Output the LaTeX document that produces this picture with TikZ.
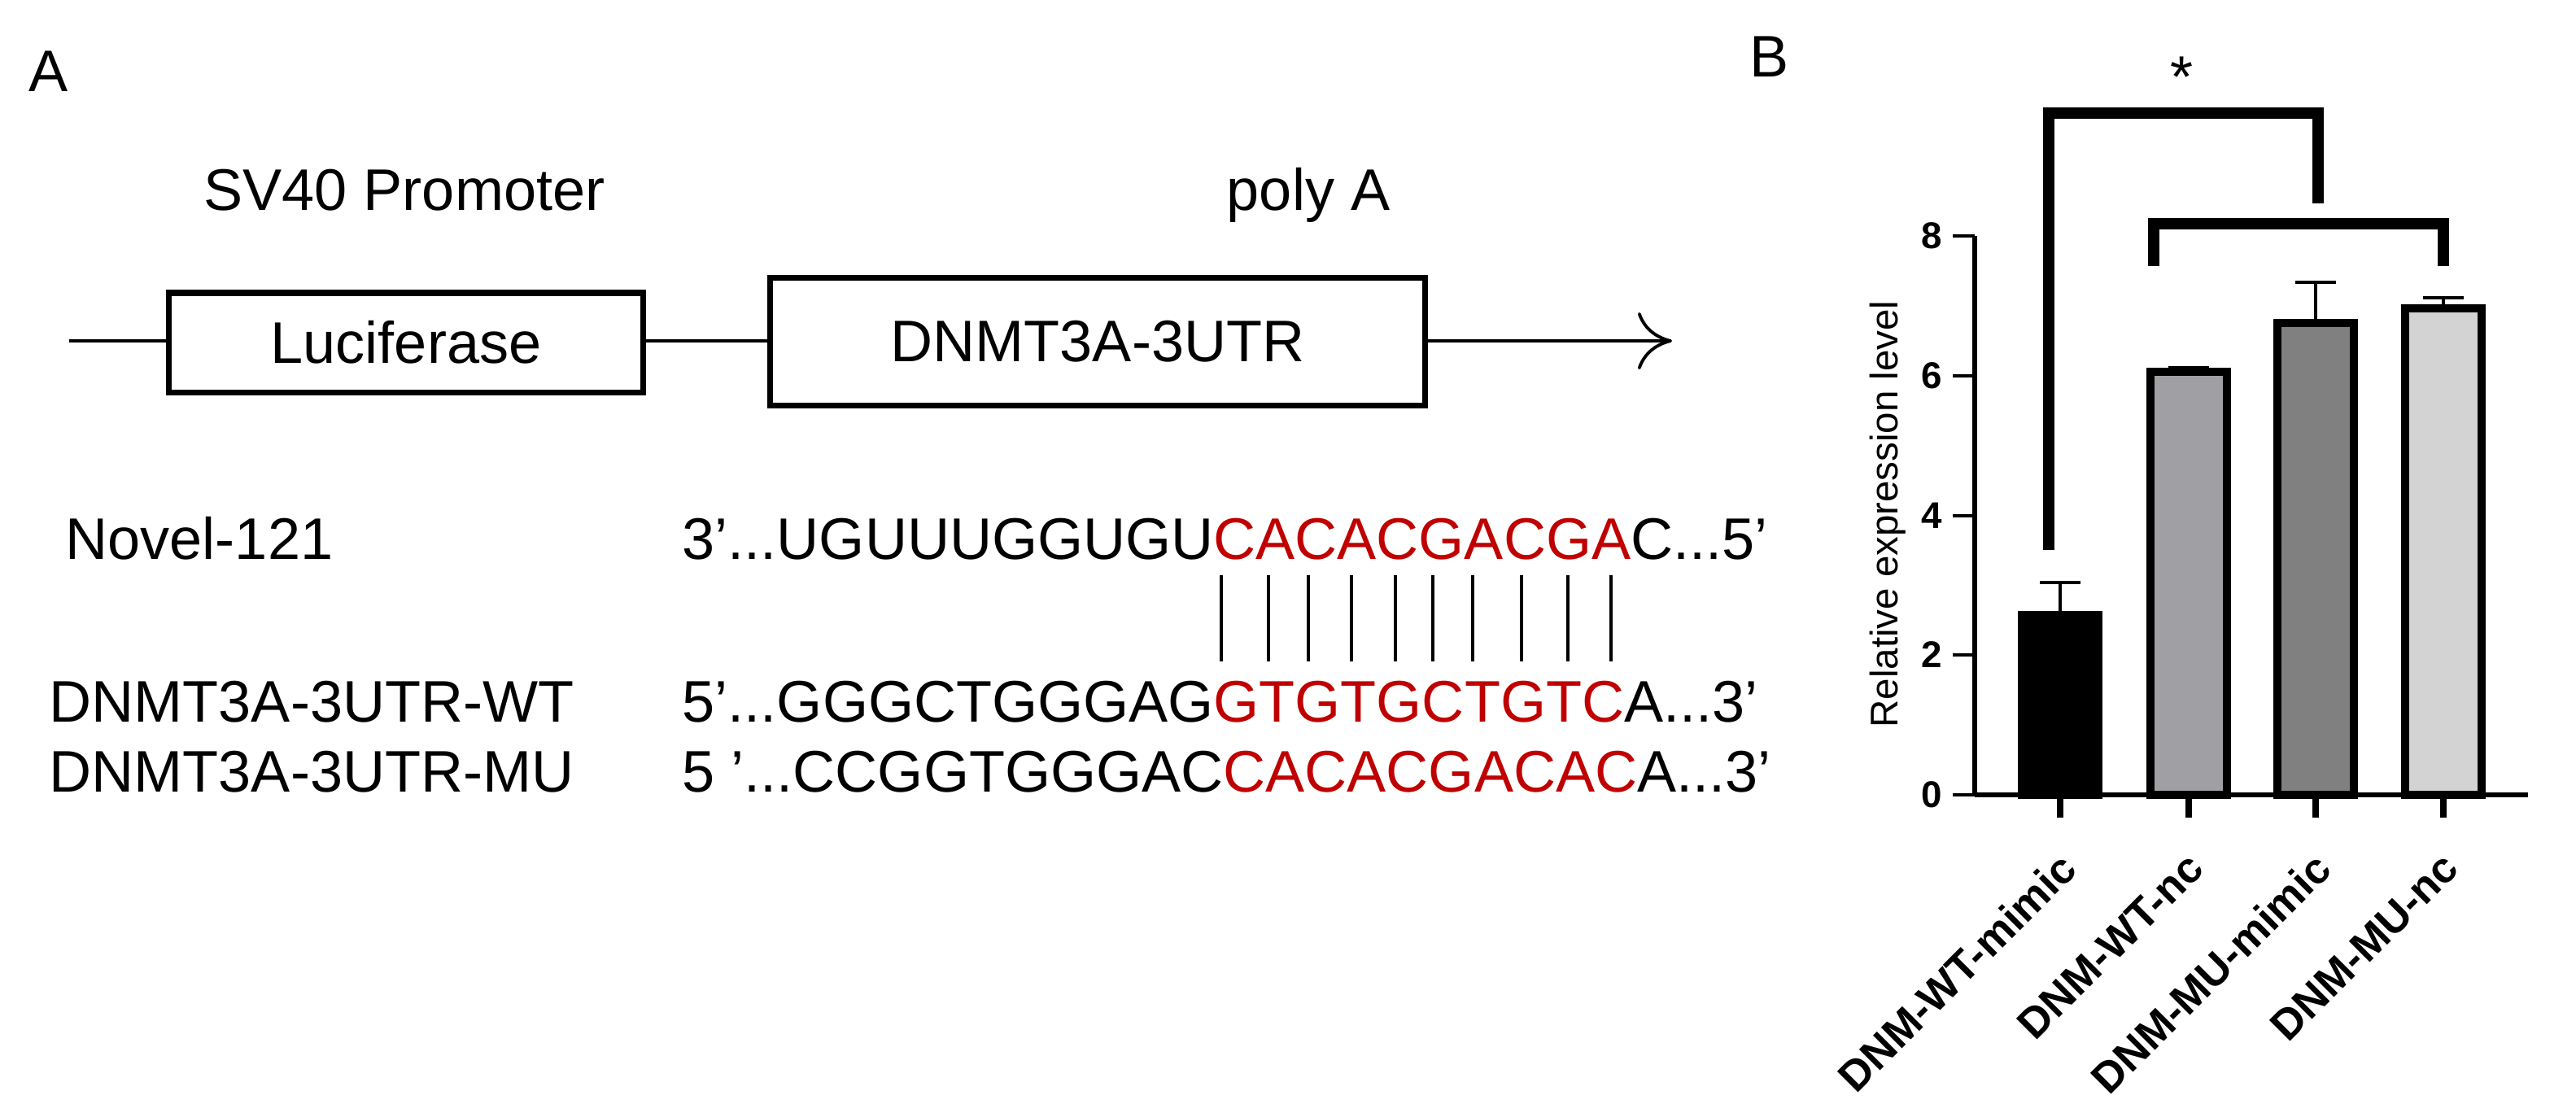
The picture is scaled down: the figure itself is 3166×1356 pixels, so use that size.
\documentclass[tikz,border=0pt]{standalone}
\usepackage{fontspec}
\setmainfont{Liberation Sans}
\usetikzlibrary{arrows.meta}
\definecolor{seqred}{RGB}{192,0,0}
\definecolor{barA}{RGB}{160,160,164}
\definecolor{barB}{RGB}{128,128,128}
\definecolor{barC}{RGB}{211,211,211}
\begin{document}
\begin{tikzpicture}[x=0.01cm,y=-0.01cm,
  big/.style={font=\fontsize{20.5}{24}\selectfont, inner sep=0pt},
  seq/.style={big, anchor=base west},
  box/.style={draw, line width=2pt, inner sep=0pt, font=\fontsize{20.5}{24}\selectfont},
  thin/.style={line width=1.1pt},
  bar/.style={draw, line width=3.1pt},
  brk/.style={line width=4pt},
  ticklab/.style={font=\fontsize{13}{15}\selectfont\bfseries, anchor=east, inner sep=0pt},
  xlab/.style={font=\fontsize{15}{18}\selectfont\bfseries, anchor=east, rotate=45, inner sep=0pt}]
\useasboundingbox (0,0) rectangle (3166,1356);
% Panel A
\node[big] (lA) at (60,88) {A};
\node[big, anchor=base] (sv40) at (497,258) {SV40 Promoter};
\node[big, anchor=base] (polyA) at (1608,258) {poly A};
\node[box, minimum height=1.22cm, minimum width=5.82cm] (luc) at (499,421) {Luciferase};
\node[box, minimum height=1.57cm, minimum width=8.04cm] (utr) at (1349,420) {DNMT3A-3UTR};
\coordinate (start) at (85,419);
\coordinate (end) at (2055,419);
\draw[thin] (start) -- (luc.west |- start);
\draw[thin] (luc.east |- start) -- (utr.west |- start);
\draw[thin, -{To[length=12pt,width=20pt,line width=1.1pt]}] (utr.east |- start) -- (end);

\node[seq] (nov) at (80,687) {Novel-121};
\node[seq] (wt) at (60,887) {DNMT3A-3UTR-WT};
\node[seq] (mu) at (60,973) {DNMT3A-3UTR-MU};
\node[seq] (s1) at (838,687) {3’...UGUUUGGUGU\textcolor{seqred}{CACACGACGA}C...5’};
\node[seq] (s2) at (838,887) {5’...GGGCTGGGAG\textcolor{seqred}{GTGTGCTGTC}A...3’};
\node[seq] (s3) at (838,973) {5 ’...CCGGTGGGAC\textcolor{seqred}{CACACGACAC}A...3’};
\foreach \x in {1501,1559,1608,1661,1715,1761,1810,1870,1927,1980}
  \draw[line width=0.9pt] (\x,707) -- (\x,813);

% Panel B
\node[big] (lB) at (2175,70) {B};
\node[big] (star) at (2681,95) {*};
\draw[line width=1.5pt] (2427,290) -- (2427,977);
\draw[line width=1.8pt] (2427,977) -- (3107,977);
\foreach \v/\y in {0/977,2/805,4/634,6/462,8/290}{
  \draw[line width=1.4pt] (2400,\y) -- (2427,\y);
  \node[ticklab] at (2388,\y) {\v};
}
\node[font=\fontsize{13.5}{16}\selectfont, rotate=90, inner sep=0pt] (ylab) at (2320,632) {Relative expression level};
% bars
\foreach \c/\t/\e/\col in {2532/756/716/black, 2690/457/452/barA, 2846/397/347/barB, 3003/379/366/barC}{
  \draw[line width=1.1pt] (\c,\t) -- (\c,\e);
  \draw[line width=1.1pt] (\c-25,\e) -- (\c+25,\e);
  \draw[bar, fill=\col] (\c-47,977) rectangle (\c+47,\t);
  \draw[line width=2.3pt] (\c,977) -- (\c,1005);
}
\node[xlab] at (2542,1058) {DNM-WT-mimic};
\node[xlab] at (2699,1058) {DNM-WT-nc};
\node[xlab] at (2855,1058) {DNM-MU-mimic};
\node[xlab] at (3012,1058) {DNM-MU-nc};
% brackets
\draw[brk] (2518,676) -- (2518,139) -- (2849,139) -- (2849,250);
\draw[brk] (2647,327) -- (2647,275) -- (3003,275) -- (3003,327);
\end{tikzpicture}
\end{document}
